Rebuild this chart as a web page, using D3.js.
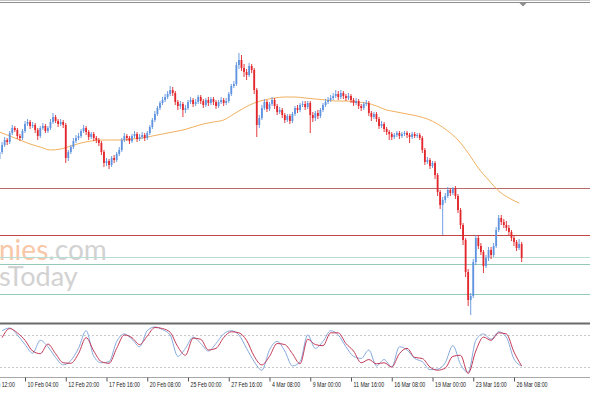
<!DOCTYPE html>
<meta charset="utf-8">
<html>
<style>
body { margin: 0; background: #fff; }
svg { display: block; }
.axis text { font-family: "Liberation Sans", Arial, sans-serif; font-size: 8px; fill: #222; }
.axis line { stroke: #555; }
</style>
<svg width="590" height="393"></svg>
<script src="https://d3js.org/d3.v7.min.js"></script>
<script>
// 4h candles, bar 0 = 6 Feb 12:00, first visible bar is 6
var firstBar = 6;
var firstOpen = 120.84;

var closes = [
  120.91,120.98,121.03,121.01,121.10,121.15,121.13,121.07,121.05,121.12,
  121.19,121.21,121.17,121.18,121.13,121.07,121.15,121.17,121.12,121.15,
  121.21,121.26,121.22,121.19,121.21,121.18,120.85,120.91,120.96,121.02,
  121.05,121.07,121.12,121.15,121.11,121.06,121.09,121.05,121.03,121.00,
  120.91,120.80,120.82,120.78,120.85,120.83,120.89,120.93,121.03,121.07,
  121.05,121.02,121.07,121.09,121.04,121.06,121.08,121.05,121.10,121.16,
  121.23,121.29,121.35,121.40,121.43,121.46,121.49,121.53,121.50,121.41,
  121.37,121.39,121.33,121.35,121.41,121.43,121.39,121.41,121.46,121.42,
  121.38,121.43,121.40,121.44,121.41,121.37,121.41,121.43,121.40,121.42,
  121.49,121.57,121.59,121.78,121.83,121.75,121.71,121.68,121.77,121.73,
  121.53,121.18,121.25,121.35,121.41,121.34,121.39,121.43,121.37,121.31,
  121.33,121.28,121.23,121.27,121.22,121.29,121.35,121.33,121.38,121.39,
  121.36,121.40,121.28,121.25,121.30,121.27,121.33,121.38,121.41,121.43,
  121.45,121.47,121.49,121.46,121.50,121.47,121.45,121.47,121.43,121.40,
  121.42,121.37,121.35,121.39,121.40,121.30,121.26,121.29,121.24,121.17,
  121.19,121.14,121.11,121.09,121.06,121.08,121.10,121.07,121.09,121.10,
  121.08,121.06,121.09,121.07,121.08,121.05,120.93,120.81,120.83,120.77,
  120.80,120.68,120.51,120.38,120.43,120.47,120.53,120.50,120.55,120.47,
  120.33,120.18,120.03,119.71,119.43,119.47,119.81,120.05,119.97,119.91,
  119.77,119.85,119.93,119.88,119.97,120.13,120.25,120.21,120.18,120.15,
  120.11,120.05,120.01,119.95,119.99,119.85
];
var highs = [
  120.95,121.01,121.06,121.05,121.12,121.18,121.17,121.15,121.09,121.14,
  121.22,121.24,121.23,121.21,121.20,121.15,121.17,121.20,121.19,121.17,
  121.24,121.30,121.28,121.24,121.24,121.23,121.20,120.93,120.98,121.05,
  121.08,121.10,121.14,121.18,121.17,121.13,121.11,121.11,121.07,121.05,
  121.02,120.93,120.85,120.84,120.87,120.88,120.91,120.96,121.05,121.10,
  121.09,121.07,121.09,121.12,121.11,121.09,121.11,121.10,121.12,121.18,
  121.25,121.32,121.37,121.42,121.46,121.49,121.52,121.57,121.56,121.52,
  121.43,121.42,121.41,121.38,121.43,121.46,121.45,121.44,121.48,121.48,
  121.44,121.45,121.46,121.46,121.46,121.43,121.43,121.46,121.45,121.45,
  121.51,121.59,121.62,121.81,121.90,121.88,121.79,121.74,121.80,121.79,
  121.75,121.55,121.28,121.38,121.44,121.43,121.41,121.46,121.45,121.39,
  121.36,121.35,121.30,121.29,121.29,121.31,121.37,121.38,121.40,121.42,
  121.42,121.42,121.42,121.31,121.32,121.33,121.35,121.40,121.44,121.46,
  121.48,121.50,121.53,121.52,121.53,121.52,121.49,121.50,121.49,121.45,
  121.45,121.44,121.39,121.41,121.43,121.42,121.32,121.31,121.31,121.26,
  121.22,121.21,121.16,121.13,121.11,121.10,121.12,121.12,121.11,121.12,
  121.12,121.10,121.11,121.11,121.10,121.10,121.07,120.95,120.86,120.85,
  120.82,120.82,120.70,120.53,120.46,120.50,120.56,120.55,120.56,120.57,
  120.49,120.35,120.20,120.05,119.74,119.50,119.84,120.08,120.08,120.00,
  119.93,119.88,119.96,119.96,120.00,120.16,120.28,120.28,120.24,120.22,
  120.18,120.13,120.08,120.03,120.04,120.01
];
var lows = [
  120.80,120.89,120.96,120.98,120.99,121.08,121.11,121.04,121.02,121.03,
  121.10,121.17,121.14,121.15,121.10,121.03,121.05,121.13,121.10,121.10,
  121.13,121.19,121.20,121.16,121.17,121.15,120.80,120.82,120.89,120.94,
  121.00,121.03,121.05,121.10,121.08,121.03,121.04,121.02,121.00,120.97,
  120.88,120.76,120.77,120.74,120.76,120.80,120.81,120.87,120.91,121.01,
  121.02,120.99,121.00,121.05,121.01,121.02,121.04,121.02,121.03,121.08,
  121.14,121.21,121.27,121.33,121.38,121.41,121.44,121.47,121.47,121.38,
  121.33,121.34,121.26,121.30,121.33,121.39,121.36,121.37,121.39,121.39,
  121.35,121.36,121.37,121.38,121.38,121.34,121.35,121.39,121.37,121.38,
  121.40,121.47,121.55,121.57,121.74,121.72,121.66,121.63,121.66,121.70,
  121.49,121.06,121.15,121.23,121.33,121.31,121.32,121.37,121.34,121.28,
  121.29,121.25,121.20,121.21,121.19,121.20,121.27,121.30,121.31,121.36,
  121.33,121.34,121.10,121.21,121.22,121.24,121.25,121.31,121.36,121.39,
  121.41,121.43,121.45,121.43,121.44,121.44,121.42,121.43,121.40,121.37,
  121.38,121.34,121.32,121.33,121.37,121.27,121.22,121.24,121.21,121.14,
  121.15,121.11,121.08,121.03,121.03,121.04,121.06,121.04,121.05,121.07,
  121.05,121.00,121.04,121.05,121.05,121.03,120.90,120.78,120.79,120.74,
  120.75,120.64,120.47,120.34,120.08,120.40,120.45,120.47,120.48,120.44,
  120.30,120.14,119.98,119.66,119.37,119.28,119.45,119.78,119.94,119.88,
  119.70,119.75,119.82,119.84,119.86,119.95,120.11,120.18,120.15,120.12,
  120.08,120.02,119.97,119.92,119.93,119.81
];

// moving average, read every 4 bars starting at bar 6
var maStart = 6, maStep = 4;
var maValues = [
  121.11,121.07,121.03,120.99,120.96,120.93,120.94,120.97,121.00,121.02,
  121.03,121.03,121.03,121.04,121.05,121.07,121.09,121.11,121.13,121.16,
  121.19,121.21,121.23,121.29,121.35,121.40,121.43,121.45,121.46,121.46,
  121.45,121.44,121.43,121.42,121.42,121.41,121.40,121.37,121.33,121.31,
  121.29,121.27,121.24,121.19,121.12,121.03,120.90,120.75,120.63,120.52,
  120.45,120.40
];

// stochastic, read every 3 bars starting at bar 7
var stStart = 7, stStep = 3;
var stochMain = [
  88,93,80,62,46,70,58,38,24,32, 55,88,40,28,30,68,82,72,58,88,
  95,90,80,40,55,76,64,50,64,82, 88,80,55,30,14,52,68,50,22,30,
  80,55,68,88,80,58,40,36,52,22, 34,20,58,52,36,30,15,16,28,60,
  25,10,70,82,72,86,76,35,22
];
var stochSignal = [
  75,92,84,70,50,45,63,45,28,27, 45,75,50,30,27,55,80,75,62,78,
  94,92,85,58,42,74,72,52,55,75, 86,84,70,40,24,40,64,62,45,26,
  72,62,60,84,84,64,50,28,34,26, 28,20,45,55,38,36,20,14,18,40,
  42,8,50,76,70,84,82,48,22
];
var stochLevels = [20, 80];

// horizontal support / resistance lines
var hLevels = [120.55, 120.08, 119.86, 119.79, 119.49];
var hColors = ["#b86a6a", "#c24646", "#b9dcd3", "#93c9ba", "#93c9ba"];

var tickLabels = ["6 Feb 12:00","10 Feb 04:00","12 Feb 20:00","17 Feb 16:00","20 Feb 08:00",
  "25 Feb 00:00","27 Feb 16:00","4 Mar 08:00","9 Mar 00:00","11 Mar 16:00",
  "16 Mar 08:00","19 Mar 00:00","23 Mar 16:00","26 Mar 08:00"];
var barsPerLabel = 16;

var svg = d3.select("svg");

var x = d3.scaleLinear().domain([0, 208]).range([-15.75, 514]);
var y = d3.scaleLinear().domain([119.25, 122.40]).range([318, 3]);
var ys = d3.scaleLinear().domain([0, 100]).range([377.7, 324.3]);

var defs = svg.append("defs");
defs.append("clipPath").attr("id", "mainClip")
  .append("rect").attr("x", 0).attr("y", 3).attr("width", 590).attr("height", 319);
defs.append("clipPath").attr("id", "stClip")
  .append("rect").attr("x", 0).attr("y", 324.5).attr("width", 590).attr("height", 53);

// top frame
svg.append("rect").attr("x", 0).attr("y", 0).attr("width", 590).attr("height", 1).attr("fill", "#c4c4c4");
svg.append("rect").attr("x", 0).attr("y", 2).attr("width", 590).attr("height", 1).attr("fill", "#8e8e8e");
svg.append("path").attr("d", "M519.5,3 L526.5,3 L523,6.5 Z").attr("fill", "#8e8e8e");

var main = svg.append("g").attr("clip-path", "url(#mainClip)");

// watermark
var wm = main.append("g").style("font-family", "Lato, 'Open Sans', sans-serif").style("font-weight", 400);
var t1 = wm.append("text").attr("x", -1).attr("y", 260).style("font-size", "28px");
t1.append("tspan").attr("fill", "#f8c7a8").text("nies");
t1.append("tspan").attr("fill", "#d2d2d2").text(".com");
wm.append("text").attr("x", -1).attr("y", 286).style("font-size", "27px").attr("fill", "#d2d2d2").text("sToday");

// horizontal levels
main.selectAll("line.level")
  .data(hLevels)
  .enter().append("line")
    .attr("class", "level")
    .attr("x1", 0).attr("x2", 590)
    .attr("y1", function(d) { return Math.round(y(d)) + 0.5; })
    .attr("y2", function(d) { return Math.round(y(d)) + 0.5; })
    .attr("stroke", function(d, i) { return hColors[i]; })
    .attr("stroke-width", 1);

// moving average
var maPts = maValues.map(function(v, i) { return [maStart + i * maStep, v]; });
main.append("path")
  .datum(maPts)
  .attr("fill", "none")
  .attr("stroke", "#f0b060")
  .attr("stroke-width", 1)
  .attr("d", d3.line().curve(d3.curveMonotoneX)
    .x(function(d) { return x(d[0]); })
    .y(function(d) { return y(d[1]); }));

// candles
var bars = closes.map(function(c, i) {
  return { j: firstBar + i, o: i ? closes[i - 1] : firstOpen, c: c, h: highs[i], l: lows[i] };
});
var upCol = "#5f93df", downCol = "#e2262b";
var candle = main.append("g").selectAll("g")
  .data(bars)
  .enter().append("g");
candle.append("line")
  .attr("x1", function(d) { return x(d.j); })
  .attr("x2", function(d) { return x(d.j); })
  .attr("y1", function(d) { return y(d.h); })
  .attr("y2", function(d) { return y(d.l); })
  .attr("stroke", function(d) { return d.c >= d.o ? upCol : downCol; })
  .attr("stroke-width", 0.9);
candle.append("rect")
  .attr("x", function(d) { return x(d.j) - 0.9; })
  .attr("width", 1.8)
  .attr("y", function(d) { return y(Math.max(d.o, d.c)); })
  .attr("height", function(d) { return Math.max(1, Math.abs(y(d.o) - y(d.c))); })
  .attr("fill", function(d) { return d.c >= d.o ? upCol : downCol; });

// separator between panels
svg.append("rect").attr("x", 0).attr("y", 322.5).attr("width", 590).attr("height", 2).attr("fill", "#6a6a6a");

// stochastic panel
var st = svg.append("g").attr("clip-path", "url(#stClip)");
st.selectAll("line.lvl")
  .data(stochLevels)
  .enter().append("line")
    .attr("x1", 0).attr("x2", 590)
    .attr("y1", function(d) { return Math.round(ys(d)) + 0.5; })
    .attr("y2", function(d) { return Math.round(ys(d)) + 0.5; })
    .attr("stroke", "#c8c8c8")
    .attr("stroke-dasharray", "2,2");

var stLine = d3.line().curve(d3.curveMonotoneX)
  .x(function(d, i) { return x(stStart + i * stStep); })
  .y(function(d) { return ys(d); });
st.append("path").datum(stochMain)
  .attr("fill", "none").attr("stroke", "#86a9dc").attr("stroke-width", 1)
  .attr("d", stLine);
st.append("path").datum(stochSignal)
  .attr("fill", "none").attr("stroke", "#c33a57").attr("stroke-width", 1)
  .attr("d", stLine);

// bottom frame and time axis
svg.append("rect").attr("x", 0).attr("y", 377).attr("width", 590).attr("height", 1).attr("fill", "#a8a8a8");

var tickIdx = tickLabels.map(function(d, i) { return i * barsPerLabel; });
var axis = d3.axisBottom(x)
  .tickValues(tickIdx)
  .tickSizeInner(4)
  .tickSizeOuter(0)
  .tickFormat(function(d, i) { return tickLabels[i]; });

var ax = svg.append("g").attr("class", "axis").attr("transform", "translate(0,377.5)").call(axis);
ax.select(".domain").remove();
ax.selectAll(".tick text")
  .attr("text-anchor", "start")
  .attr("x", 3)
  .attr("y", 10)
  .attr("dy", 0)
  .attr("transform", "scale(0.66,1)");
</script>
</html>
